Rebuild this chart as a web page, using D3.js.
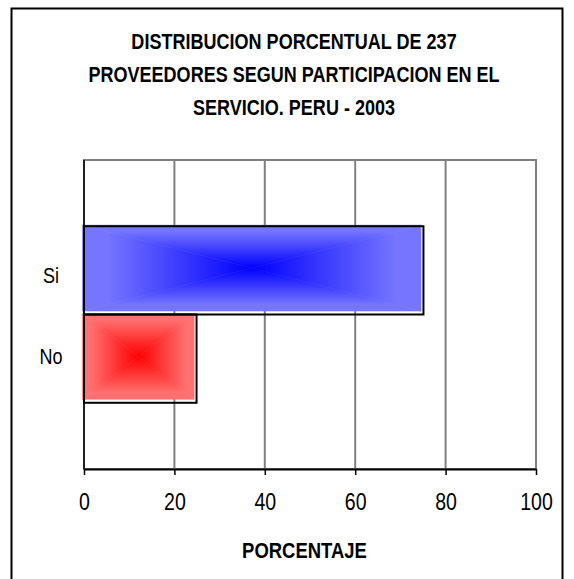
<!DOCTYPE html>
<html>
<head>
<meta charset="utf-8">
<script src="https://cdn.jsdelivr.net/npm/d3@7"></script>
<style>
  body { margin: 0; background: #fff; }
  svg text { font-family: "Liberation Sans", Arial, sans-serif; fill: #000; }
</style>
</head>
<body>
<svg id="chart" width="574" height="579"></svg>
<script>
// data
const categories = ['Si', 'No'];
const values = [75.1, 24.9];
const xTicks = [0, 20, 40, 60, 80, 100];
const titleLines = ['DISTRIBUCION PORCENTUAL DE 237', 'PROVEEDORES SEGUN PARTICIPACION EN EL', 'SERVICIO. PERU - 2003'];
const axisTitle = 'PORCENTAJE';
const edgeColors = ['#7575ff', '#ff7070'];
const centerColors = ['#0000ff', '#ff0000'];

const svg = d3.select('#chart');
const plot = {left: 84, right: 536, top: 160, bottom: 469};

// narrow-looking text: horizontal squeeze around its anchor point
function narrowText(parent, px, py, k, str, size, bold) {
    return parent.append('text')
        .attr('transform', `translate(${px},${py}) scale(${k},1)`)
        .attr('text-anchor', 'middle')
        .style('font-size', size + 'px')
        .style('font-weight', bold ? 'bold' : 'normal')
        .text(str);
}

// outer frame (no bottom edge visible)
svg.append('path')
    .attr('d', 'M11.5,579 V8.5 H562.5 V579')
    .attr('fill', 'none').attr('stroke', '#000').attr('stroke-width', 2);

// title
titleLines.forEach((t, i) => narrowText(svg, 294, 48.5 + i * 33.3, 0.82, t, 22, true));

const x = d3.scaleLinear().domain([0, 100]).range([plot.left, plot.right]);
const y = d3.scaleBand().domain(categories).range([plot.top, plot.bottom])
    .paddingInner(0).paddingOuter(0.75);

// plot border + gridlines
svg.append('rect')
    .attr('x', plot.left).attr('y', plot.top)
    .attr('width', plot.right - plot.left).attr('height', plot.bottom - plot.top)
    .attr('fill', 'none').attr('stroke', '#808080').attr('stroke-width', 2);
svg.selectAll('line.grid').data(xTicks.slice(1)).enter()
    .append('line').attr('class', 'grid')
    .attr('x1', d => x(d)).attr('x2', d => x(d))
    .attr('y1', plot.top).attr('y2', plot.bottom)
    .attr('stroke', '#808080').attr('stroke-width', 2);

// bars: box gradient made of 4 triangles
const defs = svg.append('defs');
categories.forEach((c, i) => {
    const x0 = x(0) - 1.5, x1 = x(values[i]) - 2.5;
    const y0 = y(c) - 1, y1 = y(c) + y.bandwidth() - 3.5;
    const cx = (x0 + x1) / 2, cy = (y0 + y1) / 2;
    const g = svg.append('g');
    const tris = [
        {pts: [[x0, y0], [x1, y0], [cx, cy]], from: [cx, y0]},
        {pts: [[x0, y1], [x1, y1], [cx, cy]], from: [cx, y1]},
        {pts: [[x0, y0], [x0, y1], [cx, cy]], from: [x0, cy]},
        {pts: [[x1, y0], [x1, y1], [cx, cy]], from: [x1, cy]}
    ];
    tris.forEach((t, j) => {
        const id = 'grad' + i + '_' + j;
        const lg = defs.append('linearGradient').attr('id', id)
            .attr('gradientUnits', 'userSpaceOnUse')
            .attr('x1', t.from[0]).attr('y1', t.from[1])
            .attr('x2', cx).attr('y2', cy);
        lg.append('stop').attr('offset', '0').attr('stop-color', edgeColors[i]);
        lg.append('stop').attr('offset', '0.15').attr('stop-color', edgeColors[i]);
        lg.append('stop').attr('offset', '1').attr('stop-color', centerColors[i]);
        g.append('polygon')
            .attr('points', t.pts.map(p => p.join(',')).join(' '))
            .attr('fill', 'url(#' + id + ')')
            .attr('stroke', 'url(#' + id + ')').attr('stroke-width', 0.6);
    });
});
svg.selectAll('rect.bar').data(values).enter()
    .append('rect').attr('class', 'bar')
    .attr('x', x(0))
    .attr('y', (d, i) => y(categories[i]))
    .attr('width', d => x(d) - x(0))
    .attr('height', y.bandwidth())
    .attr('fill', 'none').attr('stroke', '#000').attr('stroke-width', 2);

// y axis line
svg.append('line')
    .attr('x1', x(0)).attr('x2', x(0))
    .attr('y1', plot.top).attr('y2', plot.bottom)
    .attr('stroke', '#000').attr('stroke-width', 1.5);

// x axis
const xAxis = svg.append('g')
    .attr('transform', `translate(0,${plot.bottom})`)
    .call(d3.axisBottom(x).tickValues(xTicks).tickSize(6).tickSizeOuter(0));
xAxis.select('.domain').attr('stroke', '#000').attr('stroke-width', 2);
xAxis.selectAll('.tick line').attr('stroke', '#000').attr('stroke-width', 1.5);
xAxis.selectAll('.tick text')
    .attr('y', null).attr('dy', null)
    .attr('transform', 'translate(0,41) scale(0.85,1)')
    .style('font-size', '23px').style('font-family', '"Liberation Sans", Arial, sans-serif')
    .attr('fill', '#000');

// category labels
categories.forEach((c, i) =>
    narrowText(svg, 51, y(c) + y.bandwidth() / 2 + (i == 0 ? 13 : 5.5), 0.82, c, 22, false));

narrowText(svg, 304.5, 558, 0.84, axisTitle, 22, true);
</script>
</body>
</html>
